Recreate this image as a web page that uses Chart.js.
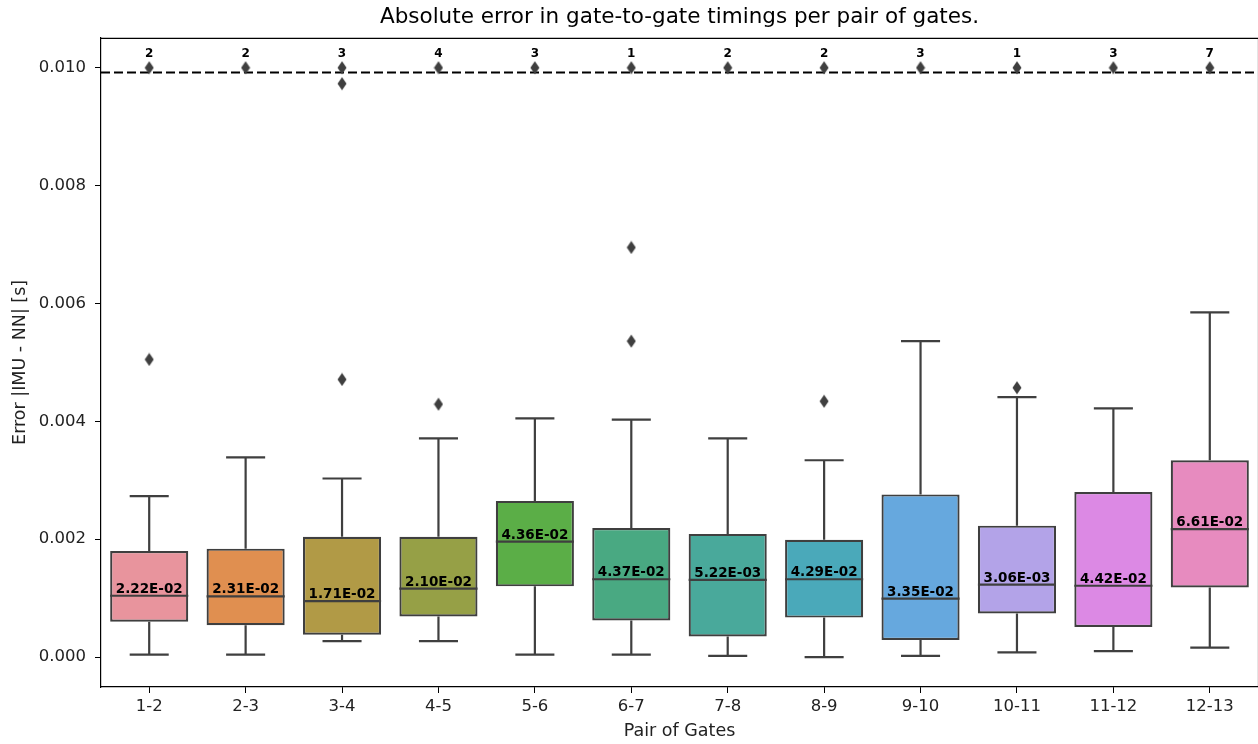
<!DOCTYPE html>
<html>
<head>
<meta charset="utf-8">
<script src="https://cdn.jsdelivr.net/npm/chart.js@4"></script>
<style>
  html, body { margin: 0; padding: 0; background: #fff; overflow: hidden; }
</style>
</head>
<body>
<canvas id="chart" width="1258" height="744"></canvas>
<script>
const pairs = ['1-2', '2-3', '3-4', '4-5', '5-6', '6-7', '7-8', '8-9', '9-10', '10-11', '11-12', '12-13'];
const lowerWhisker = [0.00004, 0.00004, 0.00027, 0.00027, 0.00004, 0.00004, 0.00002, 0.0, 0.00002, 0.00008, 0.0001, 0.00016];
const q1 = [0.0006, 0.00054, 0.00038, 0.00069, 0.0012, 0.00062, 0.00035, 0.00067, 0.00029, 0.00074, 0.00051, 0.00118];
const medians = [0.00104, 0.00103, 0.00095, 0.00116, 0.00196, 0.00132, 0.00131, 0.00132, 0.00099, 0.00123, 0.00121, 0.00217];
const q3 = [0.0018, 0.00184, 0.00204, 0.00204, 0.00265, 0.00219, 0.00209, 0.00199, 0.00276, 0.00223, 0.0028, 0.00334];
const upperWhisker = [0.00273, 0.00339, 0.00303, 0.00371, 0.00405, 0.00403, 0.00371, 0.00334, 0.00536, 0.00441, 0.00422, 0.00585];
const outliers = [
  [0.00505, 0.010],
  [0.010],
  [0.00471, 0.00973, 0.010],
  [0.00429, 0.010],
  [0.010],
  [0.00536, 0.00695, 0.010],
  [0.010],
  [0.00434, 0.010],
  [0.010],
  [0.00457, 0.010],
  [0.010],
  [0.010]
];
const clippedCounts = [2, 2, 3, 4, 3, 1, 2, 2, 3, 1, 3, 7];
const boxLabels = ['2.22E-02', '2.31E-02', '1.71E-02', '2.10E-02', '4.36E-02', '4.37E-02', '5.22E-03', '4.29E-02', '3.35E-02', '3.06E-03', '4.42E-02', '6.61E-02'];
const yTicks = [0, 0.002, 0.004, 0.006, 0.008, 0.010];
const thresholdValue = 0.00992;
const clipValue = 0.010;

const boxColors = ['#e8949d', '#e08f50', '#b19a46', '#96a046', '#5bae47', '#49a982', '#49a99b', '#4aa9ba', '#66a8de', '#b3a3e8', '#dc89e4', '#e78bbf'];
const edgeColor = '#3f3f3f';
const fontFamily = "'DejaVu Sans', sans-serif";

// thin diamond marker like matplotlib 'd'
function diamondMarker() {
  const c = document.createElement('canvas');
  c.width = 10; c.height = 14;
  const g = c.getContext('2d');
  g.fillStyle = edgeColor;
  g.beginPath();
  g.moveTo(5, 0.5); g.lineTo(9.5, 7); g.lineTo(5, 13.5); g.lineTo(0.5, 7);
  g.closePath();
  g.fill();
  return c;
}

const flierPoints = [];
outliers.forEach((list, i) => {
  list.forEach(v => flierPoints.push({x: pairs[i], y: v}));
});

const boxParts = {
  id: 'boxParts',
  beforeDatasetsDraw(chart) {
    const {ctx, chartArea, scales: {x, y}} = chart;
    const meta = chart.getDatasetMeta(0);
    ctx.save();
    // whiskers and caps
    ctx.strokeStyle = edgeColor;
    ctx.lineWidth = 2.2;
    pairs.forEach((p, i) => {
      const cx = x.getPixelForValue(i);
      const half = meta.data[i].width / 4;
      const yLow = y.getPixelForValue(lowerWhisker[i]);
      const yQ1 = y.getPixelForValue(q1[i]);
      const yQ3 = y.getPixelForValue(q3[i]);
      const yHigh = y.getPixelForValue(upperWhisker[i]);
      ctx.beginPath();
      ctx.moveTo(cx, yQ1); ctx.lineTo(cx, yLow);
      ctx.moveTo(cx - half, yLow); ctx.lineTo(cx + half, yLow);
      ctx.moveTo(cx, yQ3); ctx.lineTo(cx, yHigh);
      ctx.moveTo(cx - half, yHigh); ctx.lineTo(cx + half, yHigh);
      ctx.stroke();
    });
    // threshold line
    const ty = y.getPixelForValue(thresholdValue);
    ctx.strokeStyle = '#000';
    ctx.lineWidth = 2;
    ctx.setLineDash([9, 4]);
    ctx.beginPath();
    ctx.moveTo(chartArea.left, ty);
    ctx.lineTo(chartArea.right, ty);
    ctx.stroke();
    ctx.restore();
  },
  afterDatasetsDraw(chart) {
    const {ctx, chartArea, scales: {x, y}} = chart;
    const meta = chart.getDatasetMeta(0);
    ctx.save();
    ctx.strokeStyle = edgeColor;
    ctx.lineWidth = 2.2;
    pairs.forEach((p, i) => {
      const bar = meta.data[i];
      const half = bar.width / 2;
      const cx = x.getPixelForValue(i);
      const my = y.getPixelForValue(medians[i]);
      ctx.beginPath();
      ctx.moveTo(cx - half, my); ctx.lineTo(cx + half, my);
      ctx.stroke();
      ctx.fillStyle = '#000';
      ctx.font = 'bold 13.5px ' + fontFamily;
      ctx.textAlign = 'center';
      ctx.textBaseline = 'alphabetic';
      ctx.fillText(boxLabels[i], cx, my - 3);
      ctx.font = 'bold 12px ' + fontFamily;
      ctx.fillText(String(clippedCounts[i]), cx, y.getPixelForValue(clipValue) - 11);
    });
    // top and right spines
    ctx.strokeStyle = '#000';
    ctx.lineWidth = 1.2;
    ctx.beginPath();
    ctx.moveTo(chartArea.left, chartArea.top + 0.5);
    ctx.lineTo(chartArea.right + 0.5, chartArea.top + 0.5);
    ctx.lineTo(chartArea.right + 0.5, chartArea.bottom);
    ctx.stroke();
    ctx.restore();
  }
};

const tickFont = {family: fontFamily, size: 16.5};
const labelFont = {family: fontFamily, size: 17.5};

new Chart(document.getElementById('chart'), {
  type: 'bar',
  data: {
    labels: pairs,
    datasets: [{
      data: pairs.map((p, i) => [q1[i], q3[i]]),
      backgroundColor: boxColors,
      borderColor: edgeColor,
      borderWidth: 2.2,
      borderSkipped: false,
      categoryPercentage: 1.0,
      barPercentage: 0.81,
      order: 2
    }, {
      type: 'scatter',
      data: flierPoints,
      pointStyle: diamondMarker(),
      order: 1
    }]
  },
  options: {
    responsive: false,
    animation: false,
    layout: {autoPadding: false, padding: {left: 0, right: -3, top: 0, bottom: 0}},
    plugins: {
      legend: {display: false},
      tooltip: {enabled: false},
      title: {
        display: true,
        fullSize: false,
        text: 'Absolute error in gate-to-gate timings per pair of gates.',
        color: '#000',
        font: {family: fontFamily, size: 21.5, weight: 'normal'},
        padding: {top: 5, bottom: 7}
      }
    },
    scales: {
      x: {
        type: 'category',
        offset: true,
        grid: {drawOnChartArea: false, drawTicks: true, tickLength: 6, color: '#000', offset: false},
        border: {color: '#000', width: 1.2},
        ticks: {color: '#222', font: tickFont, autoSkip: false, maxRotation: 0, padding: 4},
        title: {display: true, text: 'Pair of Gates', color: '#222', font: labelFont, padding: {top: 2, bottom: 2}},
        afterFit(scale) {
          scale.height = 57;
          scale.paddingLeft = 0;
          scale.paddingRight = 0;
        }
      },
      y: {
        min: -0.000508,
        max: 0.010508,
        grid: {drawOnChartArea: false, drawTicks: true, tickLength: 6, color: '#000'},
        border: {color: '#000', width: 1.2},
        afterBuildTicks(scale) { scale.ticks = yTicks.map(v => ({value: v})); },
        ticks: {color: '#222', font: tickFont, padding: 9, callback: v => v.toFixed(3)},
        title: {display: true, text: 'Error |IMU - NN| [s]', color: '#222', font: labelFont, padding: {top: 10, bottom: 4}},
        afterFit(scale) { scale.width = 101; }
      }
    }
  },
  plugins: [boxParts]
});
</script>
</body>
</html>
